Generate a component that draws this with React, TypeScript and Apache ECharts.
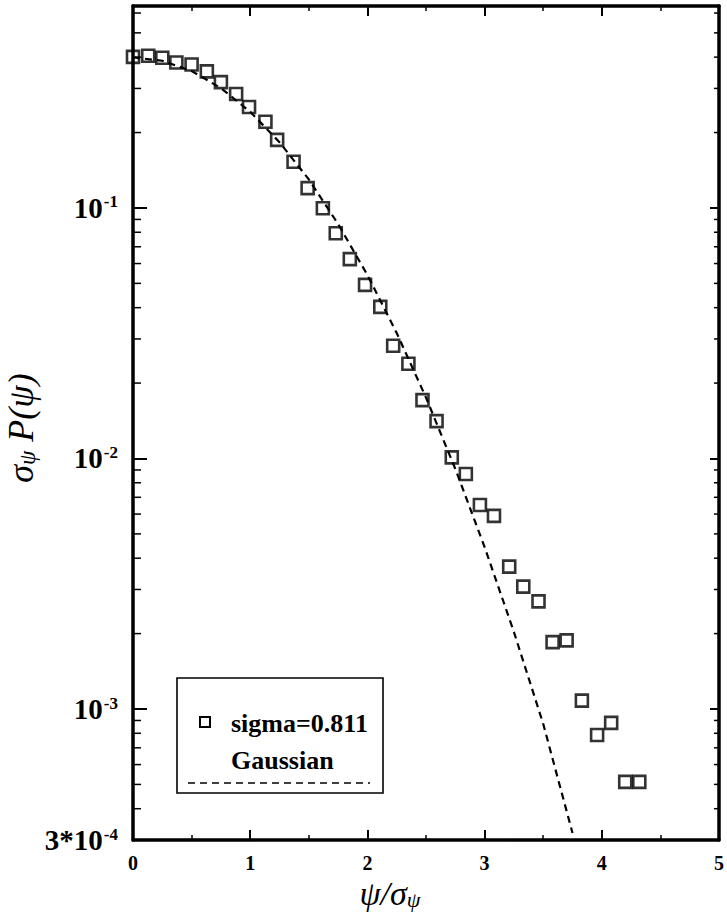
import React, { useEffect, useRef } from 'react';
import * as echarts from 'echarts';

// psi / sigma_psi (bin centres) and sigma_psi * P(psi)
const psi = [0.0, 0.13, 0.25, 0.37, 0.5, 0.63, 0.75, 0.88, 0.99, 1.13, 1.23, 1.37, 1.49, 1.62, 1.73, 1.85, 1.98, 2.11, 2.22, 2.35, 2.47, 2.59, 2.72, 2.84, 2.96, 3.08, 3.21, 3.33, 3.46, 3.58, 3.7, 3.83, 3.96, 4.08, 4.2, 4.32];
const prob = [0.401, 0.405, 0.398, 0.381, 0.374, 0.351, 0.318, 0.285, 0.253, 0.221, 0.187, 0.153, 0.12, 0.0997, 0.0793, 0.0625, 0.0493, 0.0403, 0.0282, 0.0239, 0.0171, 0.0141, 0.0101, 0.00867, 0.00652, 0.0059, 0.0037, 0.00308, 0.00269, 0.00185, 0.00188, 0.00108, 0.000787, 0.00088, 0.000512, 0.000512];

// dashed Gaussian curve
const gaussPsi = [0, 0.25, 0.5, 0.75, 1.0, 1.25, 1.5, 1.75, 2.0, 2.25, 2.5, 2.75, 3.0, 3.25, 3.5, 3.75];
const gaussProb = [0.399, 0.387, 0.352, 0.301, 0.242, 0.183, 0.13, 0.0863, 0.054, 0.0317, 0.0175, 0.00909, 0.00443, 0.00203, 0.000873, 0.00032];

const xTickLabels = ['0', '1', '2', '3', '4', '5'];
const yMin = 0.0003;
const yMax = 0.64;
const legendLabels = ['sigma=0.811', 'Gaussian'];

const minorTicks: number[] = [];
for (let n = -4; n <= -1; n++) {
  for (let k = 2; k <= 9; k++) {
    const v = k * Math.pow(10, n);
    if (v > yMin * 1.0001 && v < yMax) minorTicks.push(v);
  }
}

const SERIF = 'Liberation Serif';

export default function App() {
  const ref = useRef<HTMLDivElement>(null);
  useEffect(() => {
    if (!ref.current) return;
    const chart = echarts.init(ref.current, null, { renderer: 'svg' });
    const axisLineStyle = { color: '#000', width: 3.5 };
    const yFormatter = (v: number) => {
      const l = Math.log10(v);
      const r = Math.round(l);
      if (Math.abs(l - r) < 1e-6) return `{m|10}{e|${r}}`;
      if (Math.abs(v - yMin) / yMin < 1e-3) return `{m|3*10}{e|-4}`;
      return '';
    };
    const mkRich = (big: number, small: number, drop: number) => ({
      a: { fontFamily: SERIF, fontStyle: 'italic', fontSize: big, lineHeight: big, fill: '#000', color: '#000', verticalAlign: 'top' },
      s: { fontFamily: SERIF, fontStyle: 'italic', fontSize: small, lineHeight: small, fill: '#000', color: '#000', verticalAlign: 'bottom', padding: [drop, 0, 0, 0] },
    });
    const legendText = { fontFamily: SERIF, fontWeight: 'bold', fontSize: 26, fill: '#000', align: 'left', verticalAlign: 'middle' };
    chart.setOption({
      animation: false,
      backgroundColor: '#fff',
      grid: { left: 133, right: 4, top: 6, bottom: 77 },
      xAxis: [
        {
          type: 'value', min: 0, max: 5, interval: 1, position: 'bottom',
          axisLine: { show: true, onZero: false, lineStyle: axisLineStyle },
          axisTick: { show: true, inside: true, length: 10, lineStyle: { color: '#000', width: 2 } },
          minorTick: { show: true, splitNumber: 2, length: 5, lineStyle: { color: '#000', width: 1.5 } },
          splitLine: { show: false },
          minorSplitLine: { show: false },
          axisLabel: {
            margin: 13, color: '#000', fontFamily: SERIF, fontWeight: 'bold', fontSize: 20,
            formatter: (v: number) => xTickLabels[Math.round(v)] ?? '',
          },
        },
        {
          type: 'value', min: 0, max: 5, interval: 1, position: 'top',
          axisLine: { show: true, onZero: false, lineStyle: axisLineStyle },
          axisTick: { show: true, inside: true, length: 10, lineStyle: { color: '#000', width: 2 } },
          minorTick: { show: true, splitNumber: 2, length: 5, lineStyle: { color: '#000', width: 1.5 } },
          splitLine: { show: false },
          axisLabel: { show: false },
        },
      ],
      yAxis: [
        {
          type: 'log', logBase: 10, min: yMin, max: yMax, position: 'left',
          axisLine: { show: true, onZero: false, lineStyle: axisLineStyle },
          axisTick: { show: true, inside: true, length: 14, lineStyle: { color: '#000', width: 2 } },
          splitLine: { show: false },
          axisLabel: {
            margin: 14, color: '#000', showMaxLabel: false, formatter: yFormatter,
            rich: {
              m: { fontFamily: SERIF, fontWeight: 'bold', fontSize: 29, lineHeight: 29, color: '#000', verticalAlign: 'bottom' },
              e: { fontFamily: SERIF, fontWeight: 'bold', fontSize: 17, lineHeight: 17, color: '#000', verticalAlign: 'top', padding: [0, 1, 20, 1] },
            },
          },
        },
        {
          type: 'log', logBase: 10, min: yMin, max: yMax, position: 'right',
          axisLine: { show: true, onZero: false, lineStyle: axisLineStyle },
          axisTick: { show: true, inside: true, length: 9, lineStyle: { color: '#000', width: 2 } },
          splitLine: { show: false },
          axisLabel: { show: false },
        },
      ],
      series: [
        {
          type: 'custom', silent: true, clip: false, z: 5,
          data: minorTicks.map((v) => [0, v]),
          renderItem: (_p: any, api: any) => {
            const v = api.value(1);
            const l = api.coord([0, v]);
            const r = api.coord([5, v]);
            return {
              type: 'group',
              children: [
                { type: 'line', shape: { x1: l[0], y1: l[1], x2: l[0] + 8, y2: l[1] }, style: { stroke: '#000', lineWidth: 1.5 } },
                { type: 'line', shape: { x1: r[0] - 5, y1: r[1], x2: r[0], y2: r[1] }, style: { stroke: '#000', lineWidth: 1.5 } },
              ],
            };
          },
        },
        {
          type: 'line', name: legendLabels[1], symbol: 'none', clip: false,
          data: gaussPsi.map((x, i) => [x, gaussProb[i]]),
          lineStyle: { color: '#000', width: 2.2, type: [7, 5] },
        },
        {
          type: 'scatter', name: legendLabels[0], symbol: 'rect', symbolSize: 12, clip: false,
          data: psi.map((x, i) => [x, prob[i]]),
          itemStyle: { color: 'rgba(0,0,0,0)', borderColor: '#000', borderWidth: 2.6 },
        },
      ],
      graphic: [
        {
          type: 'text', x: 21, y: 428, rotation: Math.PI / 2,
          style: { text: '{a|σ}{s|ψ}{a| P(ψ)}', align: 'center', verticalAlign: 'middle', rich: mkRich(36, 23, 17) },
        },
        {
          type: 'text', x: 390, y: 893,
          style: { text: '{a|ψ/σ}{s|ψ}', align: 'center', verticalAlign: 'middle', rich: mkRich(34, 22, 17) },
        },
        { type: 'rect', shape: { x: 177, y: 678, width: 206, height: 115 }, style: { fill: 'none', stroke: '#000', lineWidth: 1.6 } },
        { type: 'rect', shape: { x: 200, y: 717, width: 10, height: 10 }, style: { fill: 'none', stroke: '#000', lineWidth: 2 } },
        { type: 'text', x: 231, y: 723, style: { text: legendLabels[0], ...legendText } },
        { type: 'text', x: 231, y: 760, style: { text: legendLabels[1], ...legendText } },
        { type: 'line', shape: { x1: 188, y1: 783, x2: 370, y2: 783 }, style: { stroke: '#000', lineWidth: 1.6, lineDash: [7, 5] } },
      ],
    });
    return () => chart.dispose();
  }, []);
  return <div ref={ref} style={{ position: 'fixed', left: 0, top: 0, width: 727, height: 917, background: '#fff' }} />;
}
